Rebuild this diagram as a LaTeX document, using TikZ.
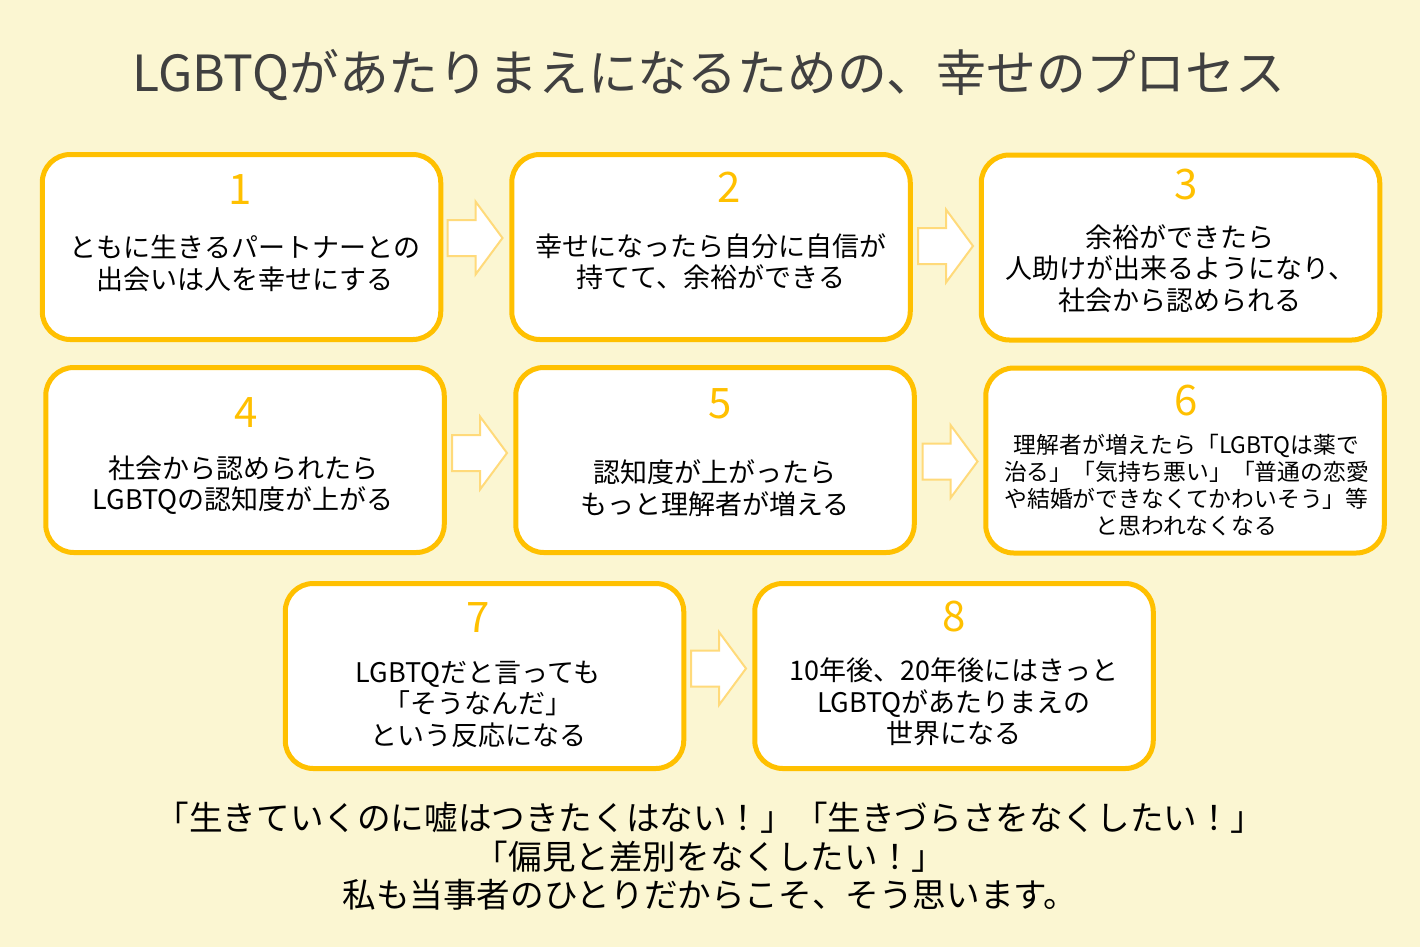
\documentclass[tikz,border=0pt]{standalone}
\usepackage{fontspec}
\setmainfont{Noto Sans CJK JP}
\definecolor{bgcream}{HTML}{FBF6D2}
\definecolor{boxgold}{HTML}{FFC000}
\definecolor{arrowgold}{HTML}{FFDA7A}
\definecolor{titlegray}{HTML}{404040}
\tikzset{
  stepbox/.style={draw=boxgold, line width=5pt, fill=white, rounded corners=28pt,
    minimum width=398.5pt, minimum height=185pt, inner sep=0pt},
  stepnum/.style={text=boxgold, font=\fontsize{42}{42}\selectfont, inner sep=0pt},
  steptext/.style={align=center, font=\fontsize{27}{31.5}\selectfont, inner sep=0pt},
  blockarrow/.style={draw=arrowgold, line width=2pt, fill=white, line join=miter},
}
\begin{document}
\begin{tikzpicture}[x=1pt, y=-1pt]
		\fill[bgcream] (0,0) rectangle (1420,947);
		\useasboundingbox (0,0) rectangle (1420,947);
		% title
		\node[text=titlegray, font=\fontsize{49.8}{50}\selectfont] (title) at (709,75) {LGBTQがあたりまえになるための、幸せのプロセス};
		% boxes
		\node[stepbox] (box1) at (241.5,247) {};
		\node[stepbox] (box2) at (711,247) {};
		\node[stepbox] (box3) at (1180.5,247.5) {};
		\node[stepbox] (box4) at (245,460) {};
		\node[stepbox] (box5) at (715,460) {};
		\node[stepbox] (box6) at (1185,460.5) {};
		\node[stepbox] (box7) at (484.5,676) {};
		\node[stepbox] (box8) at (954,676) {};
		% numbers
		\node[stepnum] (num1) at (240,190) {1};
		\node[stepnum] (num2) at (729,187) {2};
		\node[stepnum] (num3) at (1186,185) {3};
		\node[stepnum] (num4) at (246,413) {4};
		\node[stepnum] (num5) at (720,404) {5};
		\node[stepnum] (num6) at (1186,401) {6};
		\node[stepnum] (num7) at (478,618) {7};
		\node[stepnum] (num8) at (954,617) {8};
		% texts
		\node[steptext] (txt1) at (245,263.5) {ともに生きるパートナーとの\\出会いは人を幸せにする};
		\node[steptext] (txt2) at (711,261.5) {幸せになったら自分に自信が\\持てて、余裕ができる};
		\node[steptext] (txt3) at (1180,268.5) {余裕ができたら\\人助けが出来るようになり、\\社会から認められる};
		\node[steptext] (txt4) at (243,485) {社会から認められたら\\LGBTQの認知度が上がる};
		\node[steptext] (txt5) at (715,488) {認知度が上がったら\\もっと理解者が増える};
		\node[steptext, font=\fontsize{22.8}{27}\selectfont] (txt6) at (1186.5,485) {理解者が増えたら「LGBTQは薬で\\治る」「気持ち悪い」「普通の恋愛\\や結婚ができなくてかわいそう」等\\と思われなくなる};
		\node[steptext] (txt7) at (478,704) {LGBTQだと言っても\\「そうなんだ」\\という反応になる};
		\node[steptext] (txt8) at (954,702) {10年後、20年後にはきっと\\LGBTQがあたりまえの\\世界になる};
		% arrows between boxes
		\coordinate (arr12) at (475,238);
		\coordinate (arr23) at (945.5,246);
		\coordinate (arr45) at (479.5,453);
		\coordinate (arr56) at (950,461.5);
		\coordinate (arr78) at (718.5,668.5);
		\foreach \a in {arr12,arr23,arr45,arr56,arr78}
			\draw[blockarrow] ([shift={(-27.5,-18)}]\a) -- ++(28,0) -- ++(0,-18.5) -- ++(27,36.5) -- ++(-27,36.5) -- ++(0,-18.5) -- ++(-28,0) -- cycle;
		% closing words
		\node[align=center, font=\fontsize{33.6}{38.5}\selectfont] (words) at (710,856.5) {「生きていくのに嘘はつきたくはない！」「生きづらさをなくしたい！」\\「偏見と差別をなくしたい！」\\私も当事者のひとりだからこそ、そう思います。};
\end{tikzpicture}
\end{document}
